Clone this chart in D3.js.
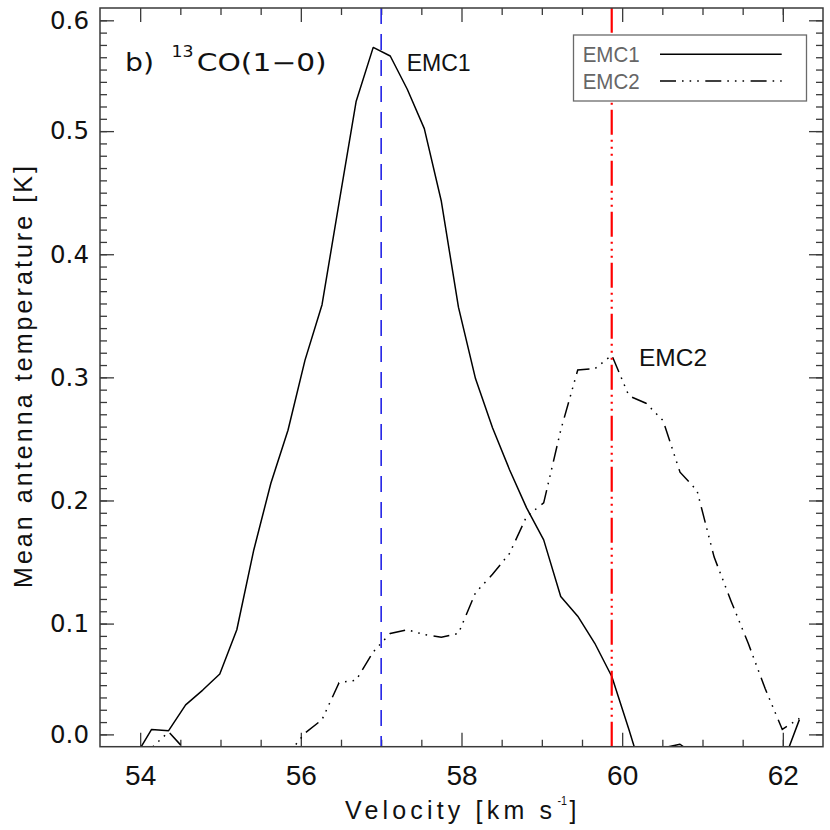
<!DOCTYPE html>
<html><head><meta charset="utf-8">
<script src="https://cdn.jsdelivr.net/npm/d3@7"></script>
<style>body{margin:0;background:#fff} svg{display:block}</style>
</head><body>
<svg id="c" width="830" height="830"></svg>
<script>
// ---- data ----
const velocity = [53.930,54.142,54.354,54.566,54.779,54.991,55.203,55.415,55.627,55.840,
  56.052,56.264,56.476,56.688,56.901,57.113,57.325,57.537,57.749,57.962,
  58.174,58.386,58.598,58.810,59.023,59.235,59.447,59.659,59.871,60.084,
  60.296,60.508,60.720,60.932,61.145,61.357,61.569,61.781,61.993,62.206];
const emc1 = [-0.009,0.014,0.013,0.034,0.046,0.059,0.095,0.160,0.214,0.257,
  0.314,0.359,0.442,0.524,0.568,0.561,0.534,0.502,0.443,0.357,
  0.299,0.259,0.225,0.194,0.168,0.122,0.106,0.084,0.057,0.014,
  -0.031,-0.001,0.002,-0.008,-0.020,-0.015,-0.025,-0.020,-0.015,0.022];
const emc2 = [-0.010,-0.001,0.012,-0.003,-0.020,-0.030,-0.020,-0.025,-0.020,-0.006,
  0.011,0.022,0.052,0.054,0.077,0.092,0.095,0.091,0.089,0.092,
  0.125,0.140,0.157,0.187,0.198,0.257,0.306,0.307,0.318,0.285,
  0.279,0.265,0.223,0.208,0.154,0.118,0.084,0.047,0.014,0.023];
const seriesNames = ["EMC1","EMC2"];
const markerVelocities = [57.0, 59.87];
const xMajorTicks = [54,56,58,60,62];
const xMinorTicks = [54.5,55,55.5,56.5,57,57.5,58.5,59,59.5,60.5,61,61.5,62];
const yTickValues = [0.01,0.1,0.2,0.3,0.4,0.5,0.59];
const yTickLabels = ["0.0","0.1","0.2","0.3","0.4","0.5","0.6"];
const yMinorStep = 0.01;

// ---- layout ----
const L=100, R=823, T=8, B=746.7;
const svg = d3.select("#c");
const x = d3.scaleLinear().domain([53.5,62.5]).range([L,R]);
const y = d3.scaleLinear().domain([0,0.6]).range([B,T]);
const yMinor = d3.range(1,60).map(i=>i*yMinorStep);

const axisColor = "#3a3a3a";
function styleAxis(g){ g.select(".domain").remove(); g.attr("color",axisColor); g.selectAll(".tick line").attr("stroke-width",1.3); }

// minor ticks
svg.append("g").attr("transform",`translate(0,${B})`)
  .call(d3.axisBottom(x).tickValues(xMinorTicks).tickSizeInner(-7).tickSizeOuter(0).tickFormat(""))
  .call(styleAxis);
svg.append("g").attr("transform",`translate(0,${T})`)
  .call(d3.axisTop(x).tickValues(xMinorTicks).tickSizeInner(-7).tickSizeOuter(0).tickFormat(""))
  .call(styleAxis);
svg.append("g").attr("transform",`translate(${L},0)`)
  .call(d3.axisLeft(y).tickValues(yMinor).tickSizeInner(-7).tickSizeOuter(0).tickFormat(""))
  .call(styleAxis);
svg.append("g").attr("transform",`translate(${R},0)`)
  .call(d3.axisRight(y).tickValues(yMinor).tickSizeInner(-7).tickSizeOuter(0).tickFormat(""))
  .call(styleAxis);

// major ticks
const xb = svg.append("g").attr("transform",`translate(0,${B})`)
  .call(d3.axisBottom(x).tickValues(xMajorTicks).tickSizeInner(-14).tickSizeOuter(0).tickPadding(18).tickFormat(d3.format("d")))
  .call(styleAxis);
xb.selectAll("text").attr("font-family","'Liberation Sans',Arial,sans-serif").attr("font-size",28).attr("fill","#111");
svg.append("g").attr("transform",`translate(0,${T})`)
  .call(d3.axisTop(x).tickValues(xMajorTicks).tickSizeInner(-14).tickSizeOuter(0).tickFormat(""))
  .call(styleAxis);
const yl = svg.append("g").attr("transform",`translate(${L},0)`)
  .call(d3.axisLeft(y).tickValues(yTickValues).tickSizeInner(-14).tickSizeOuter(0).tickPadding(11)
     .tickFormat((d,i)=>yTickLabels[i]))
  .call(styleAxis);
yl.selectAll("text").attr("font-family","'DejaVu Sans',sans-serif").attr("font-size",24.5).attr("fill","#111");
svg.append("g").attr("transform",`translate(${R},0)`)
  .call(d3.axisRight(y).tickValues(yTickValues).tickSizeInner(-14).tickSizeOuter(0).tickFormat(""))
  .call(styleAxis);

// clip
svg.append("clipPath").attr("id","clip").append("rect")
  .attr("x",L).attr("y",T).attr("width",R-L).attr("height",B-T);

const plot = svg.append("g").attr("clip-path","url(#clip)");
const line = d3.line().x(d=>x(d[0])).y(d=>y(d[1]));
const dashEMC2 = "16,6,1.6,6,1.6,6,1.6,6.5";

plot.append("path").datum(d3.zip(velocity,emc1)).attr("d",line)
  .attr("fill","none").attr("stroke","#000").attr("stroke-width",1.5).attr("stroke-linejoin","round");
plot.append("path").datum(d3.zip(velocity,emc2)).attr("d",line)
  .attr("fill","none").attr("stroke","#000").attr("stroke-width",1.5).attr("stroke-dasharray",dashEMC2);

// vertical marker lines
plot.append("line").attr("x1",x(markerVelocities[0])).attr("x2",x(markerVelocities[0]))
  .attr("y1",y(0.6)).attr("y2",y(0)).attr("stroke","#2424e6").attr("stroke-width",1.6)
  .attr("stroke-dasharray","16,10");
plot.append("line").attr("x1",x(markerVelocities[1])).attr("x2",x(markerVelocities[1]))
  .attr("y1",y(0)).attr("y2",y(0.6)).attr("stroke","#ff0000").attr("stroke-width",2.2)
  .attr("stroke-dasharray","25,5,2,5,2,5,2,5");

// frame
svg.append("rect").attr("x",L).attr("y",T).attr("width",R-L).attr("height",B-T)
  .attr("fill","none").attr("stroke",axisColor).attr("stroke-width",1.5);

// legend
const lg = svg.append("g");
lg.append("rect").attr("x",573.5).attr("y",35).attr("width",233).attr("height",66)
  .attr("fill","#fff").attr("stroke","#6a6a6a").attr("stroke-width",1.3);
seriesNames.forEach((n,i)=>{
  const yy = 54.3 + i*26.7;
  lg.append("text").attr("x",582.7).attr("y",yy+7.5).text(n)
    .attr("font-family","'Liberation Sans',Arial,sans-serif").attr("font-size",22)
    .attr("fill","#666").attr("textLength",57).attr("lengthAdjust","spacingAndGlyphs");
  lg.append("line").attr("x1",660).attr("x2",781.7).attr("y1",yy).attr("y2",yy)
    .attr("stroke","#000").attr("stroke-width",1.5)
    .attr("stroke-dasharray", i===0 ? null : dashEMC2);
});

// labels
const sans = "'Liberation Sans',Arial,sans-serif";
const dv = "'DejaVu Sans',sans-serif";
svg.append("text").attr("x",406.7).attr("y",70.7).text(seriesNames[0])
  .attr("font-family",sans).attr("font-size",24).attr("fill","#111")
  .attr("textLength",64).attr("lengthAdjust","spacingAndGlyphs");
svg.append("text").attr("x",639).attr("y",366).text(seriesNames[1])
  .attr("font-family",sans).attr("font-size",24.5).attr("fill","#111")
  .attr("textLength",68).attr("lengthAdjust","spacingAndGlyphs");

// panel title
svg.append("text").attr("x",125).attr("y",71).text("b)")
  .attr("font-family",dv).attr("font-size",24).attr("fill","#111")
  .attr("textLength",29).attr("lengthAdjust","spacingAndGlyphs");
svg.append("text").attr("x",171.5).attr("y",57).text("13")
  .attr("font-family",dv).attr("font-size",16).attr("fill","#111")
  .attr("textLength",22).attr("lengthAdjust","spacingAndGlyphs");
svg.append("text").attr("x",196.7).attr("y",71).text("CO(1\u22120)")
  .attr("font-family",dv).attr("font-size",24).attr("fill","#111")
  .attr("textLength",130).attr("lengthAdjust","spacingAndGlyphs");

// x axis title (one text element with a superscript tspan)
const xt = svg.append("text").attr("x",345).attr("y",819)
  .attr("font-family",sans).attr("font-size",25).attr("fill","#111");
xt.append("tspan").text("Velocity [km s").attr("textLength",207).attr("lengthAdjust","spacing");
xt.append("tspan").attr("x",557.5).attr("y",805).attr("font-size",13).text("-1")
  .attr("textLength",9.5).attr("lengthAdjust","spacingAndGlyphs");
xt.append("tspan").attr("x",569.5).attr("y",819).text("]");

// y axis title
svg.append("text").attr("transform","translate(31.5,377) rotate(-90)")
  .attr("text-anchor","middle").text("Mean antenna temperature [K]")
  .attr("font-family",sans).attr("font-size",25).attr("fill","#111")
  .attr("textLength",422).attr("lengthAdjust","spacing");
</script>
</body></html>
